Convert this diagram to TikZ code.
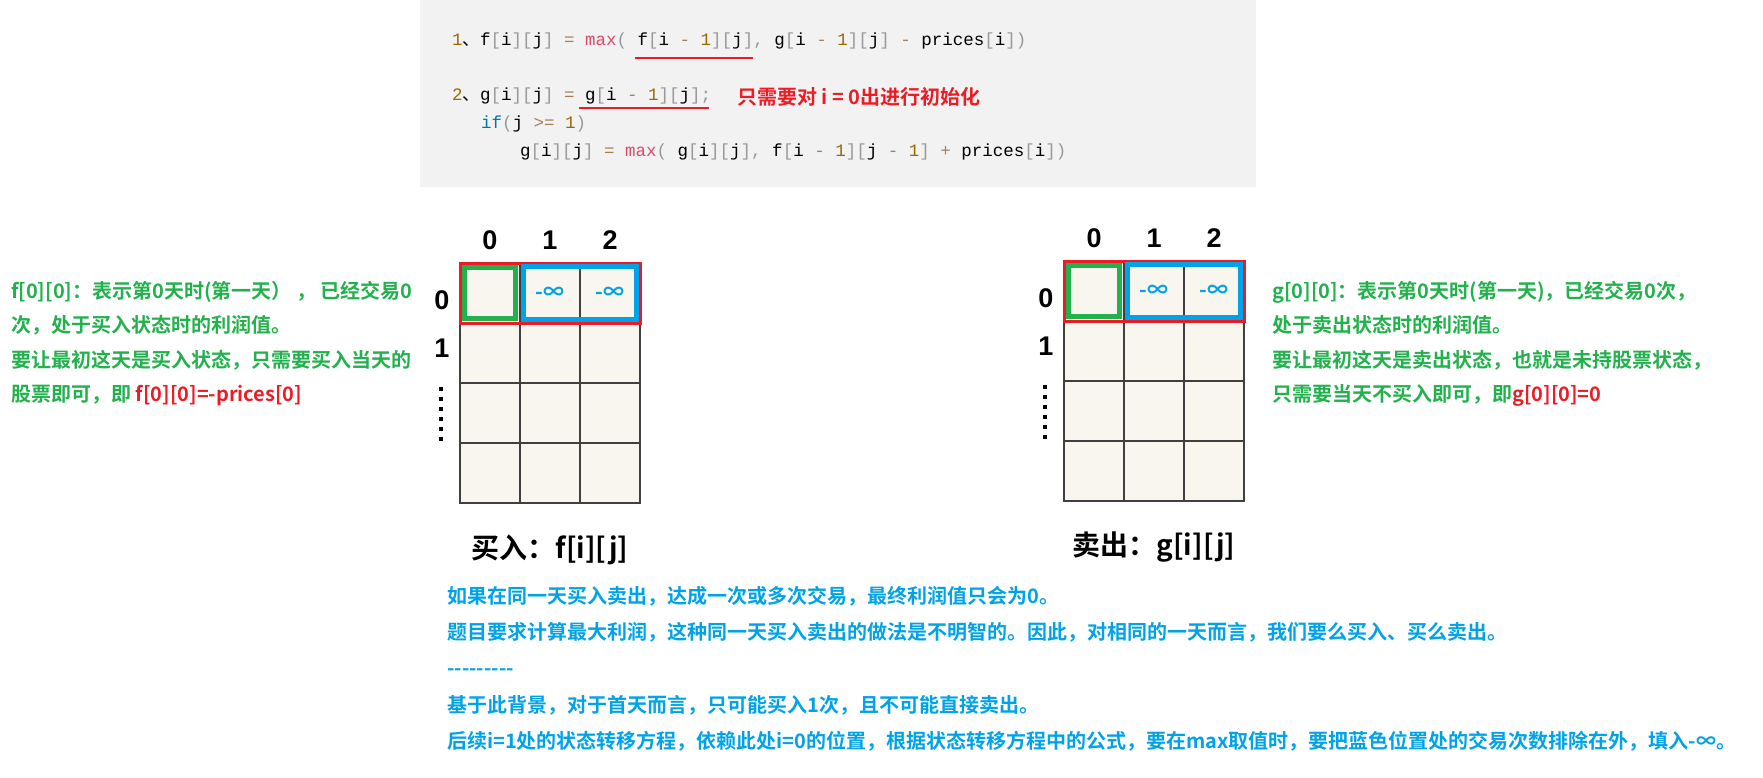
\documentclass[tikz,border=0pt]{standalone}
\usepackage{fontspec}
\usepackage{xcolor}
\usetikzlibrary{positioning}
\newfontfamily\cjk{Noto Sans CJK SC}[BoldFont={Noto Sans CJK SC Bold}]
\newfontfamily\codefont{Liberation Mono}
\newfontfamily\labelfont{Liberation Sans}
\definecolor{markred}{HTML}{ED1C24}
\definecolor{markgreen}{HTML}{22B14C}
\definecolor{infblue}{HTML}{00A2E8}
\definecolor{gridgray}{HTML}{404040}
\definecolor{cellbg}{HTML}{F8F6EF}
\definecolor{codebg}{HTML}{F2F2F2}
\definecolor{cnum}{HTML}{986801}
\definecolor{cop}{HTML}{A67F59}
\definecolor{cfn}{HTML}{DD4A68}
\definecolor{ckw}{HTML}{0077AA}
\definecolor{cpu}{HTML}{999999}
\newcommand\codenum[1]{\textcolor{cnum}{#1}}
\newcommand\codeop[1]{\textcolor{cop}{#1}}
\newcommand\codefn[1]{\textcolor{cfn}{#1}}
\newcommand\codekw[1]{\textcolor{ckw}{#1}}
\newcommand\codepu[1]{\textcolor{cpu}{#1}}
\newcommand\ix[1]{\codepu{[}#1\codepu{]}}

\begin{document}
\begin{tikzpicture}[x=1pt,y=-1pt,
  cell/.style={draw=gridgray,line width=2.5pt,fill=cellbg,minimum size=60pt,inner sep=0pt,outer sep=0pt},
  idx/.style={font=\labelfont\bfseries\fontsize{27}{27}\selectfont,inner sep=0pt},
  inf/.style={font=\cjk\bfseries\fontsize{21}{21}\selectfont,text=infblue,inner sep=0pt},
  title/.style={font=\cjk\bfseries\fontsize{28}{28}\selectfont,inner sep=0pt},
  note/.style={font=\cjk\bfseries\fontsize{20}{34.5}\selectfont,align=left,anchor=north west,inner sep=0pt},
  codeline/.style={font=\codefont\fontsize{17.5}{17.5}\selectfont,anchor=west,inner sep=0pt},
  rowbox/.style={draw=markred,line width=3pt},
  initbox/.style={draw=markgreen,line width=4.5pt},
  skipbox/.style={draw=infblue,line width=5pt},
  uline/.style={draw=markred,line width=2.5pt},
  vdots/.style={line width=4pt,dash pattern=on 4pt off 6pt}]
\useasboundingbox (0,0) rectangle (1763,777);

% code block
\fill[codebg] (420,0) rectangle (1256,187);
\node[codeline] (code1) at (452,41) {\codenum{1}{\cjk 、}f\ix{i}\ix{j} \codeop{=} \codefn{max}\codepu{(} f\codepu{[}i \codeop{-} \codenum{1}\codepu{]}\ix{j}\codepu{,} g\codepu{[}i \codeop{-} \codenum{1}\codepu{]}\ix{j} \codeop{-} prices\ix{i}\codepu{)}};
\node[codeline] (code2) at (452,96) {\codenum{2}{\cjk 、}g\ix{i}\ix{j} \codeop{=} g\codepu{[}i \codeop{-} \codenum{1}\codepu{]}\ix{j}\codepu{;}};
\node[codeline] (code3) at (481,124) {\codekw{if}\codepu{(}j \codeop{>=} \codenum{1}\codepu{)}};
\node[codeline] (code4) at (520,152) {g\ix{i}\ix{j} \codeop{=} \codefn{max}\codepu{(} g\ix{i}\ix{j}\codepu{,} f\codepu{[}i \codeop{-} \codenum{1}\codepu{]}\codepu{[}j \codeop{-} \codenum{1}\codepu{]} \codeop{+} prices\ix{i}\codepu{)}};
\node[font=\cjk\bfseries\fontsize{20}{20}\selectfont,text=markred,anchor=west,inner sep=0pt] (initnote) at (737,97) {只需要对 i = 0出进行初始化};
\draw[uline] (635,58) -- (753,58);
\draw[uline] (579,108) -- (709,108);

% the two tables
\foreach \r in {0,...,3}
  \foreach \c in {0,1,2} {
    \node[cell] (f\r\c) at ({490+60*\c},{293+60*\r}) {};
    \node[cell] (g\r\c) at ({1094+60*\c},{291+60*\r}) {};
  }
\draw[rowbox] (f00.north west) rectangle (f02.south east);
\draw[initbox] ([shift={(4.5,4.5)}]f00.north west) rectangle ([shift={(-4.5,-4.5)}]f00.south east);
\draw[skipbox] ([shift={(3.5,3.5)}]f01.north west) rectangle ([shift={(-3.5,-3.5)}]f02.south east);
\draw[rowbox] (g00.north west) rectangle (g02.south east);
\draw[initbox] ([shift={(4.5,4.5)}]g00.north west) rectangle ([shift={(-4.5,-4.5)}]g00.south east);
\draw[skipbox] ([shift={(3.5,3.5)}]g01.north west) rectangle ([shift={(-3.5,-3.5)}]g02.south east);
\foreach \t in {f,g} {
  \node[inf] at (\t01) {-∞};
  \node[inf] at (\t02) {-∞};
  \node[idx,above=13pt of \t00] {0};
  \node[idx,above=13pt of \t01] {1};
  \node[idx,above=13pt of \t02] {2};
  \node[idx,left=10.5pt of \t00,yshift=-7pt] {0};
  \node[idx,left=10.5pt of \t10,yshift=5pt] {1};
  \draw[vdots] ([xshift=-19pt,yshift=26pt]\t20.west) -- ([xshift=-19pt,yshift=-28pt]\t20.west);
}
\node[title,below=32pt of f31] (ftitle) {买入：f[i][j]};
\node[title,below=31pt of g31] (gtitle) {卖出：g[i][j]};

% explanations
\node[note,text=markgreen] (fnote) at (11,281) {f[0][0]：表示第0天时(第一天） ， 已经交易0\\次，处于买入状态时的利润值。\\要让最初这天是买入状态，只需要买入当天的\\股票即可，即 \textcolor{markred}{f[0][0]=-prices[0]}};
\node[note,text=markgreen] (gnote) at (1272,281) {g[0][0]：表示第0天时(第一天)，已经交易0次，\\处于卖出状态时的利润值。\\要让最初这天是卖出状态，也就是未持股票状态，\\只需要当天不买入即可，即\textcolor{markred}{g[0][0]=0}};
\node[note,text=infblue,font=\cjk\bfseries\fontsize{20}{36.2}\selectfont] (summary) at (447,586) {如果在同一天买入卖出，达成一次或多次交易，最终利润值只会为0。\\题目要求计算最大利润，这种同一天买入卖出的做法是不明智的。因此，对相同的一天而言，我们要么买入、买么卖出。\\-{}-{}-{}-{}-{}-{}-{}-{}-\\基于此背景，对于首天而言，只可能买入1次，且不可能直接卖出。\\后续i=1处的状态转移方程，依赖此处i=0的位置，根据状态转移方程中的公式，要在max取值时，要把蓝色位置处的交易次数排除在外，填入-∞。};
\end{tikzpicture}
\end{document}
